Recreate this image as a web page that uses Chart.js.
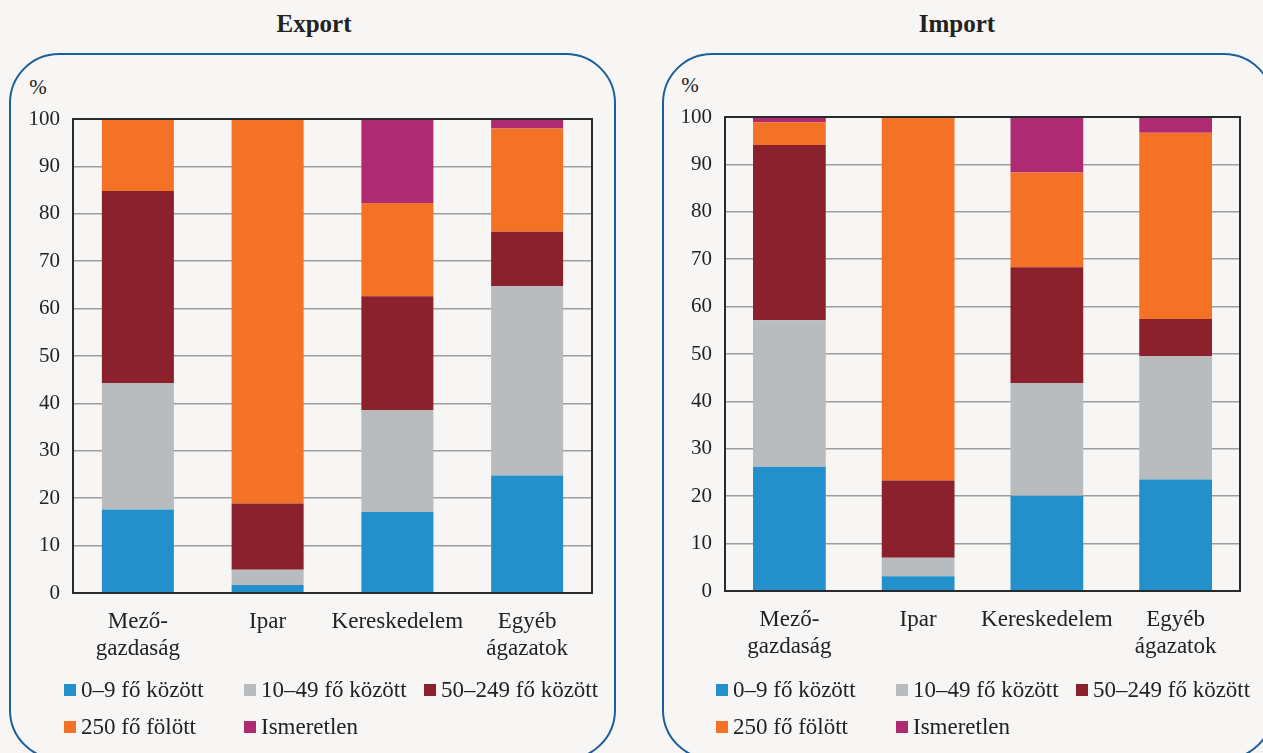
<!DOCTYPE html>
<html>
<head>
<meta charset="utf-8">
<script src="https://cdn.jsdelivr.net/npm/chart.js@4"></script>
<style>
  html, body { margin:0; padding:0; background:#f7f6f4; }
  body { width:1263px; height:753px; position:relative; overflow:hidden; font-family:"Liberation Serif", serif; color:#222; }
  .box { position:absolute; border:2px solid #1b5e9d; border-radius:50px; box-sizing:border-box; }
  .title { position:absolute; font-weight:bold; font-size:25px; transform:translate(-50%,-50%); white-space:nowrap; }
  .pct { position:absolute; font-size:21px; transform:translate(-50%,-50%); }
  canvas { position:absolute; top:0; }
  .leg { position:absolute; font-size:23px; white-space:nowrap; display:flex; align-items:center; transform:translateY(-50%); }
  .leg i { display:inline-block; width:12px; height:12px; margin-right:5px; }
</style>
</head>
<body>
<div class="box" style="left:9px;top:53px;width:607px;height:707px;"></div>
<div class="box" style="left:662px;top:53px;width:612px;height:707px;"></div>
<div class="title" style="left:314px;top:24px;">Export</div>
<div class="title" style="left:957px;top:24px;">Import</div>
<div class="pct" style="left:38px;top:87px;">%</div>
<div class="pct" style="left:690px;top:85px;">%</div>
<canvas id="c1" width="631" height="753" style="left:0;width:631px;height:753px;"></canvas>
<canvas id="c2" width="631" height="753" style="left:632px;width:631px;height:753px;"></canvas>
<div id="legends"></div>
<script>
const categories = [["Mező-","gazdaság"], "Ipar", "Kereskedelem", ["Egyéb","ágazatok"]];
const seriesNames = ["0–9 fő között", "10–49 fő között", "50–249 fő között", "250 fő fölött", "Ismeretlen"];
const seriesColors = ["#2390cc", "#b9bcbe", "#8b212c", "#f37226", "#ae2a72"];

// Export
const export0_9   = [17.6, 1.7, 17.1, 24.8];
const export10_49 = [26.7, 3.2, 21.5, 39.9];
const export50_249= [40.5, 14.0, 24.0, 11.5];
const export250   = [15.2, 81.1, 19.7, 21.8];
const exportUnk   = [0.0, 0.0, 17.7, 2.0];

// Import
const import0_9   = [26.2, 3.1, 20.1, 23.5];
const import10_49 = [30.9, 3.9, 23.8, 26.0];
const import50_249= [37.0, 16.3, 24.4, 7.9];
const import250   = [4.8, 76.7, 20.0, 39.3];
const importUnk   = [1.1, 0.0, 11.7, 3.3];

const yTicks = [0,10,20,30,40,50,60,70,80,90,100];

const frame = {
  id: 'frame',
  afterDatasetsDraw(chart) {
    const a = chart.chartArea, ctx = chart.ctx;
    ctx.save();
    ctx.strokeStyle = '#2a2a2a';
    ctx.lineWidth = 2;
    ctx.strokeRect(a.left, a.top, a.right - a.left, a.bottom - a.top);
    ctx.restore();
  }
};

function makeChart(id, sets, pad, barPct) {
  const datasets = sets.map((d, i) => ({
    label: seriesNames[i], data: d, backgroundColor: seriesColors[i],
    borderWidth: 0, barPercentage: barPct, categoryPercentage: 1.0
  }));
  return new Chart(document.getElementById(id), {
    type: 'bar',
    data: { labels: categories, datasets },
    plugins: [frame],
    options: {
      responsive: false, animation: false,
      layout: { padding: pad },
      plugins: { legend: { display: false }, tooltip: { enabled: false }, title: { display: false } },
      scales: {
        x: {
          stacked: true,
          grid: { display: false, drawTicks: false },
          border: { display: false },
          ticks: { color: '#222', padding: 15, maxRotation: 0, autoSkip: false,
                   font: { family: 'Liberation Serif', size: 23, lineHeight: 1.2 } },
          afterFit(s) { s.height = 70; }
        },
        y: {
          stacked: true, min: 0, max: 100,
          afterBuildTicks(s) { s.ticks = yTicks.map(v => ({ value: v })); },
          grid: { color: '#9d9d9d', lineWidth: 1.5, drawTicks: false },
          border: { display: false },
          ticks: { color: '#222', padding: 13, font: { family: 'Liberation Serif', size: 21 } },
          afterFit(s) { s.width = 60; }
        }
      }
    }
  });
}

makeChart('c1', [export0_9, export10_49, export50_249, export250, exportUnk],
  { left: 13, right: 39, top: 119, bottom: 90 }, 0.555);
makeChart('c2', [import0_9, import10_49, import50_249, import250, importUnk],
  { left: 33, right: 23, top: 117, bottom: 92 }, 0.565);

// HTML legends
const legendHost = document.getElementById('legends');
function addLegend(x0) {
  seriesNames.forEach((n, i) => {
    const col = i % 3, row = Math.floor(i / 3);
    const el = document.createElement('div');
    el.className = 'leg';
    el.style.left = (x0 + col * 180) + 'px';
    el.style.top = (690 + row * 37) + 'px';
    el.innerHTML = '<i style="background:' + seriesColors[i] + '"></i>' + n;
    legendHost.appendChild(el);
  });
}
addLegend(64);
addLegend(716);
</script>
</body>
</html>
